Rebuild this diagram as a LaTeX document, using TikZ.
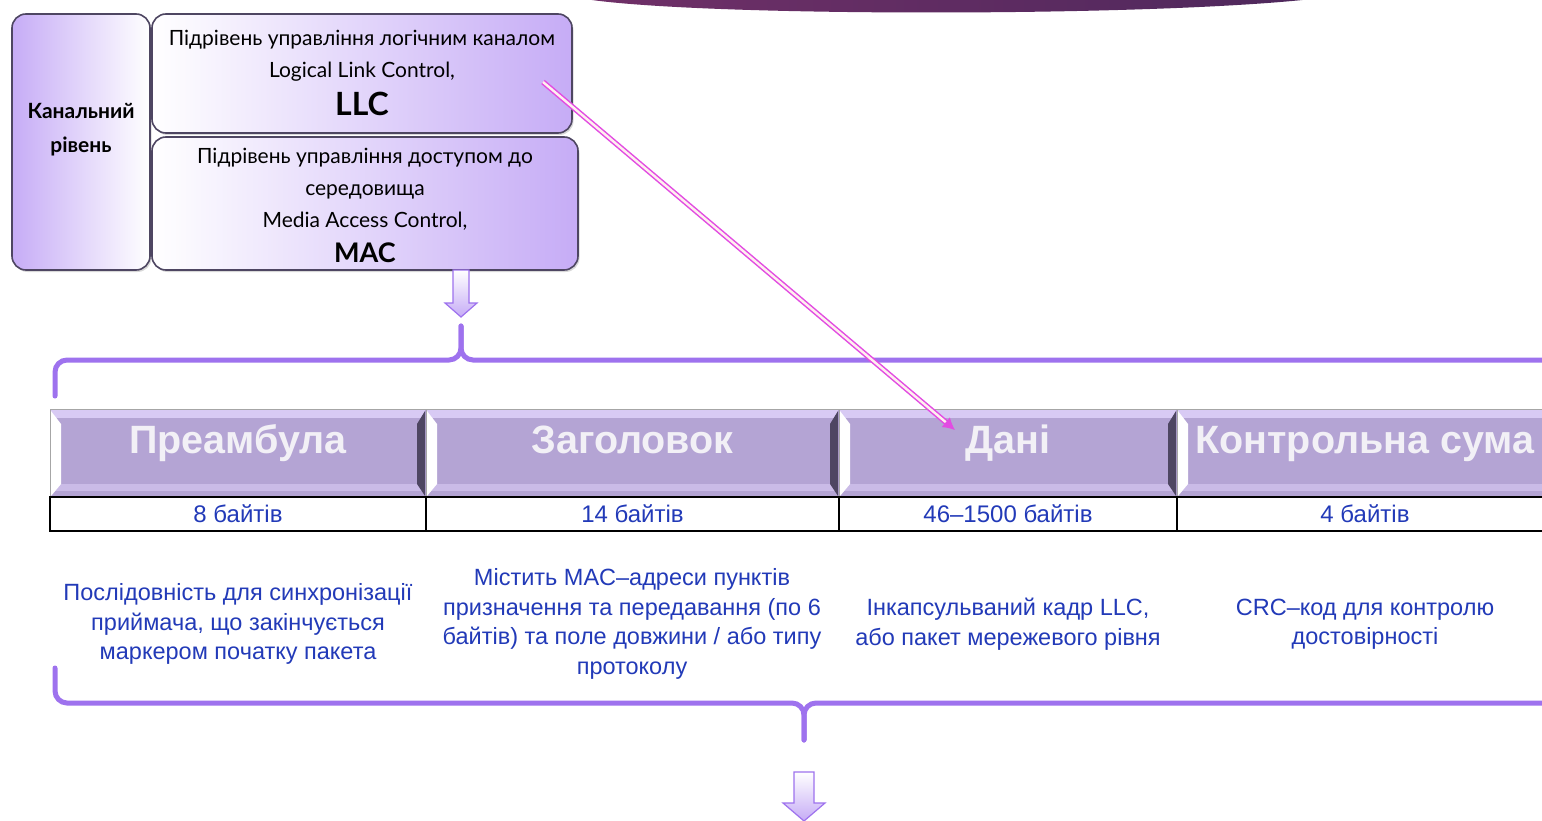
\documentclass[tikz,border=0pt]{standalone}
\usepackage{fontspec}
\setmainfont{Liberation Sans}
\newfontfamily\boxfont{Lato}
\usetikzlibrary{shadows,arrows.meta}

\definecolor{lavender}{RGB}{198,172,246}
\definecolor{braceViolet}{RGB}{158,114,238}
\definecolor{headViolet}{RGB}{180,164,212}
\definecolor{headLight}{RGB}{216,202,244}
\definecolor{headText}{RGB}{242,240,246}
\definecolor{bevelDark}{RGB}{78,70,98}
\definecolor{textBlue}{RGB}{34,58,184}
\definecolor{linkPink}{RGB}{226,76,226}
\definecolor{barLeft}{RGB}{112,48,104}
\definecolor{barRight}{RGB}{78,40,92}

\begin{document}
\begin{tikzpicture}
[x=1pt,y=-1pt,
  layerDecorate/.style={draw=bevelDark,line width=1.6pt,rounded corners=14pt,
    left color=white,right color=lavender,inner sep=0pt,
    drop shadow={opacity=0.3,shadow xshift=1.5pt,shadow yshift=-2pt}},%
  layerText/.style={align=center,font=\boxfont\fontsize{21}{32}\selectfont},
  blockArrow/.style={draw=braceViolet,line width=1.2pt,top color=white,bottom color=lavender},
  braceLine/.style={draw=braceViolet,line width=5pt,line cap=round,rounded corners=12pt},
  headDecorate/.style={fill=headViolet,draw=gray!70,line width=1pt,inner sep=0pt,minimum height=88pt},
  headTitle/.style={anchor=base,text=headText,font=\bfseries\fontsize{39.5}{40}\selectfont},
  sizeDecorate/.style={draw=black,line width=1.5pt,inner sep=0pt,minimum height=34pt,
    text=textBlue,font=\fontsize{24}{24}\selectfont},
  descText/.style={align=center,text=textBlue,font=\fontsize{23.5}{29.5}\selectfont},
  linkArrow/.style={draw=linkPink,double=pink!25,double distance=2.4pt,line width=1.5pt,
    -{Latex[length=12pt,width=13pt]}}]
\fill[white] (0,0) rectangle (1542,821);
\useasboundingbox (0,0) rectangle (1542,821);

%% title bar at the top edge
\shade[left color=barLeft,right color=barRight]
  (585,-1) .. controls (700,17) and (1150,17) .. (1312,-1) -- cycle;

%% data link layer and its two sublayers
\node (level) at (81,142) [layerDecorate,minimum width=138pt,minimum height=256pt,
  left color=lavender,right color=white] {};
\node (levelText) at (81,130) [layerText,font=\boxfont\bfseries\fontsize{21}{34}\selectfont]
  {Канальний\\рівень};
\node (llc) at (362,73.5) [layerDecorate,minimum width=420pt,minimum height=119pt] {};
\node (llcText) at (362,73) [layerText]
  {Підрівень управління логічним каналом\\Logical Link Control,\\[6pt]
   {\bfseries\fontsize{32}{32}\selectfont LLC}};
\node (mac) at (365,203.5) [layerDecorate,minimum width=426pt,minimum height=133pt] {};
\node (macText) at (365,205) [layerText]
  {Підрівень управління доступом до\\середовища\\Media Access Control,\\[3pt]
   {\bfseries\fontsize{27}{27}\selectfont MAC}};

%% block arrows
\foreach \xc/\ytop/\yhead/\ytip/\shaft/\wing in {461/270/303/317/8/16, 804/772/803/821/10/21}
{
  \path[blockArrow] (\xc-\shaft,\ytop) -- (\xc+\shaft,\ytop) -- (\xc+\shaft,\yhead)
    -- (\xc+\wing,\yhead) -- (\xc,\ytip) -- (\xc-\wing,\yhead) -- (\xc-\shaft,\yhead) -- cycle;
}

%% braces
\draw[braceLine] (55,396) |- (461,360) -- (461,326);
\draw[braceLine] (461,326) |- (1570,360);
\draw[braceLine] (55,668) |- (804,703) -- (804,740);
\draw[braceLine] (804,740) |- (1570,703);

%% frame fields
\foreach \name/\xl/\xr/\head/\size in {
  pre/50/426/Преамбула/8 байтів,
  hdr/426/839/Заголовок/14 байтів,
  data/839/1177/Дані/46–1500 байтів,
  crc/1177/1553/Контрольна сума/4 байтів}
{
  \node (\name Head) at ({(\xl+\xr)/2},453) [headDecorate,minimum width={\xr-\xl}] {};
  \fill[headLight] (\xl+1,410) rectangle (\xr-1,418);
  \fill[headLight!60!headViolet] (\xl+1,484) rectangle (\xr-1,491);
  \fill[white] (\xl+1,411) -- (\xl+11,424) -- (\xl+11,484) -- (\xl+1,496) -- cycle;
  \fill[bevelDark] (\xr-1,411) -- (\xr-9,424) -- (\xr-9,484) -- (\xr-1,496) -- cycle;
  \node (\name Title) at ({(\xl+\xr)/2},453) [headTitle] {\head};
  \node (\name Size) at ({(\xl+\xr)/2},514) [sizeDecorate,minimum width={\xr-\xl}] {\size};
}

%% field descriptions
\foreach \name/\xc/\desc in {
  pre/238/{Послідовність для синхронізації\\приймача, що закінчується\\маркером початку пакета},
  hdr/632/{Містить MAC–адреси пунктів\\призначення та передавання (по 6\\байтів) та поле довжини / або типу\\протоколу},
  data/1008/{Інкапсульваний кадр LLC,\\або пакет мережевого рівня},
  crc/1365/{CRC–код для контролю\\достовірності}}
{
  \node (\name Desc) at (\xc,624) [descText] {\desc};
}

%% LLC frame goes into the data field
\coordinate (llcPoint) at (543,82);
\coordinate (dataPoint) at (955,430);
\draw[linkArrow] (llcPoint) -- (dataPoint);
\end{tikzpicture}
\end{document}
